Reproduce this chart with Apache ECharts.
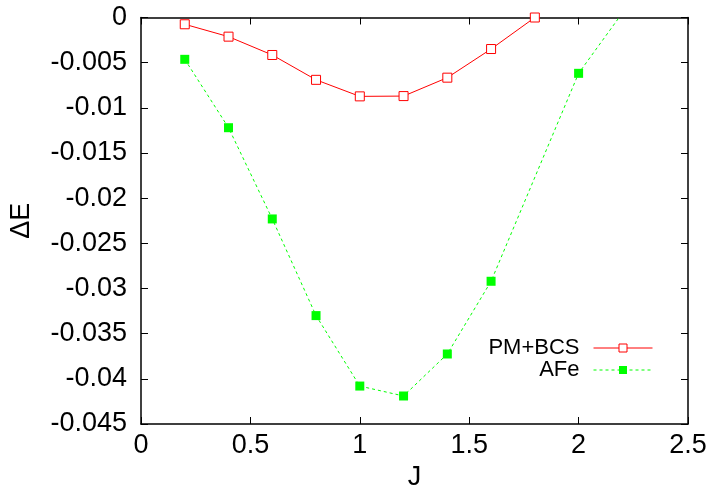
<!DOCTYPE html>
<html>
<head>
<meta charset="utf-8">
<script src="https://cdn.jsdelivr.net/npm/echarts@6/dist/echarts.min.js"></script>
<style>
html,body{margin:0;padding:0;background:#fff;}
#chart{width:712px;height:490px;}
</style>
</head>
<body>
<div id="chart"></div>
<script>
const pmJ = [0.2, 0.4, 0.6, 0.8, 1.0, 1.2, 1.4, 1.6, 1.8];
const pmBcs = [-0.00075, -0.00212, -0.00415, -0.0069, -0.00873, -0.00870, -0.00666, -0.00349, 0.0];
const afeJ = [0.2, 0.4, 0.6, 0.8, 1.0, 1.2, 1.4, 1.6, 2.0, 2.2];
const afe = [-0.00463, -0.0122, -0.0223, -0.0330, -0.0408, -0.0419, -0.03725, -0.0292, -0.00618, 0.0005];
const xTicks = {min: 0, max: 2.5, interval: 0.5};
const yTicks = {min: -0.045, max: 0, interval: 0.005};
const seriesNames = ['PM+BCS', 'AFe'];

const FONT = '"Liberation Sans", Arial, Helvetica, sans-serif';
const chart = echarts.init(document.getElementById('chart'), null, {renderer: 'canvas'});
const axisLine = {show: true, onZero: false, lineStyle: {color: '#000', width: 1.5}};
const tickIn = {show: true, inside: true, length: 7, lineStyle: {color: '#000', width: 1}};
function zip(a, b) { return a.map((v, i) => [v, b[i]]); }

chart.setOption({
  animation: false,
  backgroundColor: '#fff',
  grid: {left: 141, right: 24, top: 17.5, bottom: 66, containLabel: false, outerBoundsMode: 'none'},
  legend: {
    orient: 'vertical',
    right: 54, top: 332,
    align: 'right',
    itemWidth: 59, itemHeight: 10, itemGap: 0,
    lineStyle: {width: 1},
    itemStyle: {borderWidth: 1},
    textStyle: {fontFamily: FONT, fontSize: 22, color: '#000', padding: [0, 9, 0, 0]},
    data: seriesNames
  },
  xAxis: [{
    type: 'value', min: xTicks.min, max: xTicks.max, interval: xTicks.interval,
    name: 'J', nameLocation: 'middle', nameGap: 39,
    nameTextStyle: {fontFamily: FONT, fontSize: 27, color: '#000'},
    axisLine: axisLine, axisTick: tickIn, splitLine: {show: false},
    axisLabel: {fontFamily: FONT, fontSize: 27, color: '#000', margin: 8}
  }, {
    type: 'value', position: 'top', min: xTicks.min, max: xTicks.max, interval: xTicks.interval,
    axisLine: axisLine, axisTick: tickIn, splitLine: {show: false}, axisLabel: {show: false}
  }],
  yAxis: [{
    type: 'value', min: yTicks.min, max: yTicks.max, interval: yTicks.interval,
    name: 'ΔE', nameLocation: 'middle', nameGap: 106, nameRotate: 90,
    nameTextStyle: {fontFamily: FONT, fontSize: 27, color: '#000'},
    axisLine: axisLine, axisTick: tickIn, splitLine: {show: false},
    axisLabel: {fontFamily: FONT, fontSize: 27, color: '#000', margin: 14}
  }, {
    type: 'value', position: 'right', min: yTicks.min, max: yTicks.max, interval: yTicks.interval,
    axisLine: axisLine, axisTick: tickIn, splitLine: {show: false}, axisLabel: {show: false}
  }],
  series: [{
    name: seriesNames[0], type: 'line', data: zip(pmJ, pmBcs),
    clip: true,
    symbol: 'rect', symbolSize: 9,
    itemStyle: {color: '#fff', borderColor: '#ff0000', borderWidth: 1},
    lineStyle: {color: '#ff0000', width: 1, type: 'solid'},
    color: '#ff0000', z: 3
  }, {
    name: seriesNames[1], type: 'line', data: zip(afeJ, afe),
    clip: true,
    symbol: 'rect', symbolSize: 9,
    itemStyle: {color: '#00ff00', borderWidth: 0},
    lineStyle: {color: '#00ff00', width: 1, type: [3, 3]},
    color: '#00ff00', z: 2
  }]
});
</script>
</body>
</html>
